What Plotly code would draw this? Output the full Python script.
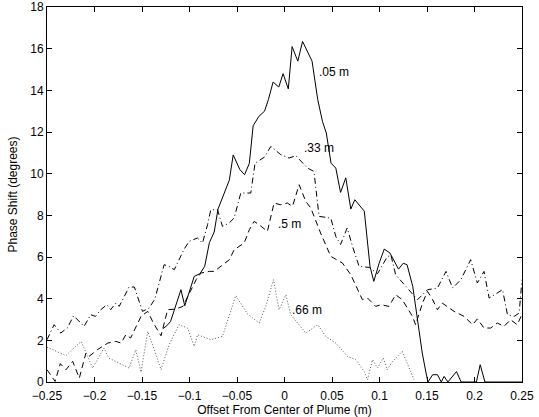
import plotly.graph_objects as go

# solid line, .05 m
x_05 = [-0.128, -0.124, -0.120, -0.109, -0.105, -0.100, -0.095, -0.089, -0.084, -0.079,
        -0.074, -0.070, -0.065, -0.058, -0.054, -0.047, -0.042, -0.037, -0.033, -0.027,
        -0.021, -0.017, -0.012, -0.006, -0.0015, 0.004, 0.008, 0.014, 0.019, 0.029,
        0.035, 0.040, 0.044, 0.049, 0.054, 0.059, 0.0645, 0.0698, 0.074, 0.084,
        0.090, 0.094, 0.0996, 0.105, 0.111, 0.115, 0.120, 0.125, 0.129, 0.135,
        0.140, 0.145, 0.149, 0.151, 0.156, 0.161, 0.165, 0.168, 0.172, 0.181,
        0.186, 0.202, 0.206, 0.211, 0.25]
y_05 = [2.56, 2.7, 2.9, 4.43, 3.66, 4.35, 5.07, 5.2, 5.55, 6.7,
        7.2, 8.3, 8.9, 9.7, 10.9, 10.2, 9.95, 10.5, 12.3, 12.75,
        13.0, 13.55, 14.4, 14.16, 14.8, 14.07, 16.1, 15.4, 16.35, 15.4,
        13.55, 12.5, 11.95, 10.5, 10.27, 9.1, 9.8, 8.3, 8.75, 8.2,
        5.55, 4.83, 5.7, 6.38, 6.19, 5.87, 5.42, 5.7, 5.63, 4.59,
        3.0, 1.39, 0.43, 0, 0.35, 0.35, 0, 0.27, 0, 0.5,
        0, 0, 0.83, 0, 0]

# dash-dot line, .33 m
x_33 = [-0.25, -0.2425, -0.2355, -0.2284, -0.222, -0.211, -0.204, -0.199, -0.1934, -0.187,
        -0.183, -0.1776, -0.174, -0.1636, -0.158, -0.1495, -0.1425, -0.1365, -0.1267, -0.1215,
        -0.116, -0.106, -0.1004, -0.0916, -0.0863, -0.081, -0.0776, -0.0705, -0.0653, -0.0583,
        -0.053, -0.046, -0.0355, -0.031, -0.021, -0.0144, -0.0039, 0.0048, 0.012, 0.0242,
        0.031, 0.0364, 0.0487, 0.054, 0.059, 0.066, 0.0716, 0.0785, 0.089, 0.098,
        0.108, 0.112, 0.117, 0.129, 0.140, 0.1505, 0.161, 0.170, 0.177, 0.1856,
        0.196, 0.203, 0.210, 0.2154, 0.2295, 0.2347, 0.2417, 0.247, 0.25]
y_33 = [2.03, 2.75, 2.35, 2.6, 3.18, 2.67, 3.23, 3.15, 3.47, 3.71,
        3.47, 3.79, 3.63, 4.56, 4.56, 3.39, 3.55, 3.98, 5.63, 5.55,
        5.39, 6.35, 6.75, 6.91, 6.67, 7.55, 8.27, 8.27, 7.47, 7.63,
        7.87, 9.07, 9.07, 10.5, 10.8, 11.31, 10.91, 10.75, 10.86, 10.27,
        10.11, 7.95, 7.87, 6.99, 6.6, 7.39, 6.51, 5.55, 5.5, 5.2,
        6.0, 6.1, 5.15, 4.51, 3.95, 4.43, 4.51, 5.31, 4.51, 4.91,
        5.87, 4.75, 5.31, 4.03, 4.43, 3.23, 3.15, 3.31, 4.91]

# dashed line, .5 m
x_5 = [-0.25, -0.2415, -0.236, -0.230, -0.223, -0.216, -0.209, -0.2057, -0.197, -0.186,
       -0.1776, -0.172, -0.167, -0.162, -0.151, -0.144, -0.138, -0.130, -0.123, -0.1144,
       -0.107, -0.100, -0.093, -0.088, -0.079, -0.074, -0.067, -0.058, -0.053, -0.046,
       -0.0425, -0.037, -0.032, -0.0267, -0.018, -0.011, -0.004, 0.003, 0.0084, 0.0154,
       0.0224, 0.0277, 0.038, 0.0487, 0.061, 0.0698, 0.082, 0.0874, 0.096, 0.1014,
       0.110, 0.117, 0.124, 0.1347, 0.138, 0.1453, 0.1505, 0.156, 0.161, 0.166,
       0.1785, 0.189, 0.198, 0.203, 0.210, 0.217, 0.224, 0.231, 0.238, 0.245, 0.249]
y_5 = [0.59, 0.03, 0.88, 0.59, 0.99, 0.19, 1.39, 1.23, 1.55, 1.87,
       1.95, 1.87, 2.27, 2.11, 3.15, 3.39, 2.83, 2.22, 3.47, 3.5,
       3.63, 4.27, 4.91, 5.23, 5.31, 5.31, 5.55, 5.87, 6.35, 6.59,
       6.67, 7.31, 7.71, 7.55, 7.23, 8.59, 8.51, 8.59, 8.43, 9.47,
       8.67, 8.35, 7.15, 6.03, 5.71, 5.15, 3.95, 4.03, 3.63, 3.71,
       3.63, 4.19, 3.95, 3.15, 2.75, 3.79, 4.35, 3.95, 3.47, 3.79,
       3.39, 3.15, 2.75, 3.03, 2.59, 2.59, 2.83, 2.67, 2.99, 2.75, 3.15]

# dotted line, .66 m
x_66 = [-0.25, -0.23, -0.214, -0.202, -0.19, -0.185, -0.1636, -0.1565, -0.151, -0.144,
        -0.137, -0.130, -0.1215, -0.111, -0.102, -0.095, -0.0916, -0.0776, -0.0653, -0.0513,
        -0.039, -0.0267, -0.0197, -0.0116, -0.0057, 0.0014, 0.0066, 0.0137, 0.0224, 0.035,
        0.0435, 0.054, 0.0663, 0.075, 0.0838, 0.0874, 0.0926, 0.0979, 0.104, 0.108,
        0.1137, 0.124, 0.131, 0.1364]
y_66 = [1.67, 1.27, 1.95, 0.67, 1.63, 1.15, 0.67, 1.55, 0.47, 2.43,
        1.55, 0.59, 1.79, 2.75, 2.59, 1.71, 2.27, 2.03, 2.19, 4.15,
        3.27, 2.83, 3.63, 4.91, 3.47, 4.19, 3.23, 2.83, 2.35, 2.75,
        2.19, 1.87, 1.23, 1.07, 0.51, 0.11, 1.07, 0.67, 1.15, 0.59,
        0.99, 1.47, 0.75, 0.11]

curve_labels = [".05 m", ".33 m", ".5 m", ".66 m"]
label_x = [0.034, 0.018, -0.009, 0.006]
label_y = [14.9, 11.25, 7.6, 3.45]

x_ticks = [-0.25, -0.2, -0.15, -0.1, -0.05, 0, 0.05, 0.1, 0.15, 0.2, 0.25]
x_tick_text = ["\u22120.25", "\u22120.2", "\u22120.15", "\u22120.1", "\u22120.05",
               "0", "0.05", "0.1", "0.15", "0.2", "0.25"]
y_ticks = [0, 2, 4, 6, 8, 10, 12, 14, 16, 18]

FONT = "Liberation Sans, Arial, sans-serif"

fig = go.Figure()
series = [(x_05, y_05, "solid", "black"),
          (x_33, y_33, "6px,3px,1px,3px", "black"),
          (x_5, y_5, "6px,4px", "black"),
          (x_66, y_66, "1px,2px", "#555555")]
for (xs, ys, dash, col), name in zip(series, curve_labels):
    fig.add_trace(go.Scatter(x=xs, y=ys, mode="lines", name=name,
                             line=dict(color=col, width=1, dash=dash)))

for txt, lx, ly in zip(curve_labels, label_x, label_y):
    fig.add_annotation(x=lx, y=ly, text=txt, showarrow=False, xanchor="left",
                       yanchor="middle", font=dict(size=12, color="black", family=FONT))

axis_common = dict(showline=True, linecolor="black", linewidth=1, mirror="ticks",
                   ticks="inside", ticklen=5, tickcolor="black", showgrid=False,
                   zeroline=False, automargin=False,
                   tickfont=dict(size=12, color="black", family=FONT))
fig.update_xaxes(range=[-0.25, 0.25], tickvals=x_ticks, ticktext=x_tick_text,
                 ticklabelstandoff=3,
                 title=dict(text="Offset From Center of Plume (m)", standoff=0,
                            font=dict(size=12, color="black", family=FONT)),
                 **axis_common)
fig.update_yaxes(range=[0, 18], tickvals=y_ticks,
                 title=dict(text="Phase Shift (degrees)", standoff=10,
                            font=dict(size=12, color="black", family=FONT)),
                 **axis_common)
fig.update_layout(width=539, height=417, showlegend=False,
                  margin=dict(l=47, r=17, t=7, b=35),
                  plot_bgcolor="white", paper_bgcolor="white",
                  font=dict(family=FONT, color="black"))

# drop the default page margin so the figure sits at the window's corner
fig.write_html("out.html", config={"displayModeBar": False},
               post_script="document.body.style.margin='0';")
